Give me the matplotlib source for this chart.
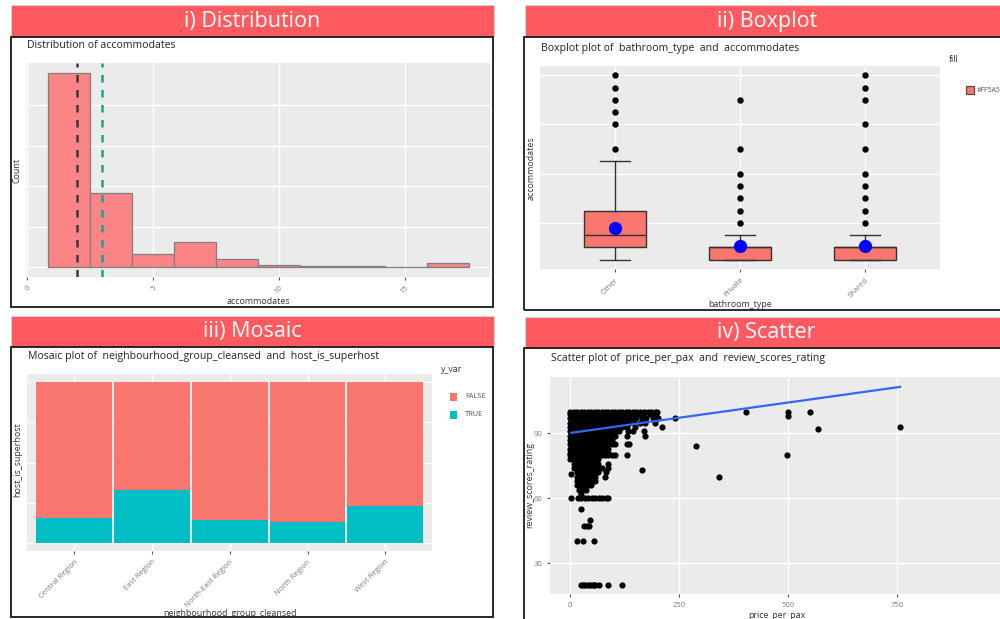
import matplotlib
matplotlib.use("Agg")
import matplotlib.pyplot as plt
from matplotlib.patches import Rectangle

plt.rcParams["font.family"] = ["Open Sans", "DejaVu Sans"]

W, H = 1000, 619

# ===== data =====
# i) histogram of accommodates
hist_edges = [0.83, 2.5, 4.17, 5.84, 7.51, 9.18, 10.85, 12.52, 14.19, 15.86, 17.53]
hist_counts = [4800, 1820, 315, 630, 200, 50, 32, 17, 5, 92]
acc_median = 2.0
acc_mean = 2.96

# ii) boxplot of accommodates by bathroom_type
bath_types = ["Other", "Private", "Shared"]
bath_q1 = [2, 1, 1]
bath_med = [3, 2, 2]
bath_q3 = [5, 2, 2]
bath_lo = [1, 1, 1]
bath_hi = [9, 3, 3]
bath_mean = [3.62, 2.1, 2.08]
bath_fliers = [
    [10, 12, 13, 14, 15, 16],
    [4, 5, 6, 7, 8, 10, 14],
    [4, 5, 6, 7, 8, 10, 12, 14, 15, 16],
]

# iii) mosaic of superhost share per region
regions = ["Central Region", "East Region", "North-East Region", "North Region", "West Region"]
superhost_true = [0.156, 0.326, 0.141, 0.127, 0.230]

# iv) scatter price_per_pax vs review_scores_rating (rows of the dense cloud)
cloud_rows = [
    (100, [0, 8, 16, 24, 32, 40, 48, 56, 64, 72, 80, 88, 96, 104, 112, 120, 128, 136, 144, 152, 160, 170, 178, 186, 194, 200]),
    (99, [0, 8, 16, 24, 32, 40, 48, 56, 64, 72, 80, 88, 96, 104, 112, 120, 128, 136, 144, 152, 158, 168, 182, 196]),
    (97, [0, 8, 16, 24, 32, 40, 48, 56, 64, 72, 80, 88, 96, 104, 112, 120, 128, 136, 144, 152, 164, 175, 190, 201, 240]),
    (95, [0, 8, 16, 24, 32, 40, 48, 56, 64, 72, 80, 88, 96, 104, 112, 120, 128, 136, 146, 160, 172, 195]),
    (93, [0, 8, 16, 24, 32, 40, 48, 56, 64, 72, 80, 88, 96, 104, 112, 120, 130, 148, 211]),
    (91, [0, 8, 16, 24, 32, 40, 48, 56, 64, 72, 80, 88, 96, 104, 112, 132, 144, 169]),
    (89, [0, 8, 16, 24, 32, 40, 48, 56, 64, 72, 80, 88, 96, 104, 131, 171]),
    (87, [0, 8, 16, 24, 32, 40, 48, 56, 64, 72, 80, 88, 96]),
    (85, [0, 8, 16, 24, 32, 40, 48, 56, 64, 72, 80, 88, 96, 103, 131, 135]),
    (83, [0, 8, 16, 24, 32, 40, 48, 56, 64, 72, 80, 88]),
    (81, [0, 8, 16, 24, 32, 40, 48, 56, 64, 72, 80, 88]),
    (80, [0, 8, 16, 24, 32, 40, 48, 56, 64, 72, 80, 88, 96, 104, 130]),
    (78, [0, 8, 16, 24, 32, 40, 48, 56, 64]),
    (76, [8, 16, 24, 32, 40, 48, 56, 64, 88]),
    (74, [8, 16, 24, 32, 40, 48, 56, 64, 72, 87]),
    (72, [16, 24, 32, 40, 48, 56, 64, 82]),
    (70, [16, 24, 32, 40, 48, 56, 79]),
    (68, [16, 24, 32, 40, 48, 56]),
    (66, [16, 24, 32, 40, 48]),
    (64, [20, 28, 36]),
    (62, [24]),
    (60, [2, 18, 26, 34, 42, 50, 58, 66, 74, 82, 87]),
    (20, [25, 30, 35, 40, 45, 50, 55, 57, 66, 88, 119]),
]
extra_price = [2, 164, 288, 342, 403, 499, 499, 550, 567, 756, 496, 26, 45, 32, 38, 43, 16, 29, 55]
extra_score = [71, 73, 84, 70, 100, 100, 98, 100, 92, 93, 80, 55, 50, 47, 47, 47, 40, 40, 40]
fit_intercept = 90.2
fit_slope = 0.0282

price_per_pax = [x for _, xs in cloud_rows for x in xs] + extra_price
review_scores = [r for r, xs in cloud_rows for _ in xs] + extra_score

# ===== layout helpers (pixel coords of the 1000x619 picture) =====
fig = plt.figure(figsize=(W / 100, H / 100), dpi=100)
fig.patch.set_facecolor("white")

HEAD = "#FF5A5F"
TXT = "#222222"
LAB = "#333333"
TICK = "#7a7a7a"


def px_axes(l, t, r, b):
    return fig.add_axes([l / W, 1 - b / H, (r - l) / W, (b - t) / H])


def px_rect(l, t, r, b, **kw):
    fig.add_artist(Rectangle((l / W, 1 - b / H), (r - l) / W, (b - t) / H,
                             transform=fig.transFigure, **kw))


def ftext(x, y, s, **kw):
    fig.text(x / W, 1 - y / H, s, **kw)


def gg(ax):
    ax.set_facecolor("#EBEBEB")
    for sp in ax.spines.values():
        sp.set_visible(False)
    ax.set_axisbelow(True)
    ax.grid(True, which="major", color="white", linewidth=1.0)
    ax.tick_params(which="both", length=0, labelsize=5.5, labelcolor=TICK)
    ax.tick_params(axis="x", which="major", length=2, color="#555555")


# headers and frames
for (l, t, r, b, label, cx) in [(11, 5, 494, 37, "i) Distribution", 252),
                                (525, 5, 1005, 37, "ii) Boxplot", 767),
                                (11, 316, 494, 347, "iii) Mosaic", 252),
                                (525, 317, 1005, 348, "iv) Scatter", 766)]:
    px_rect(l, t, r, b, facecolor=HEAD, edgecolor="#d8d8d8", linewidth=0.6)
    ftext(cx, (t + b) / 2 + 0.5, label, color="white", fontsize=15.5,
          ha="center", va="center")

px_rect(11, 37, 493, 307, fill=False, edgecolor="#1a1a1a", linewidth=1.3)
px_rect(524, 37, 1010, 310, fill=False, edgecolor="#1a1a1a", linewidth=1.3)
px_rect(11, 347, 493, 617, fill=False, edgecolor="#1a1a1a", linewidth=1.3)
px_rect(524, 348, 1010, 630, fill=False, edgecolor="#1a1a1a", linewidth=1.3)

# ===== i) Distribution =====
ax1 = px_axes(26, 63, 490, 277)
gg(ax1)
widths = [hist_edges[i + 1] - hist_edges[i] for i in range(len(hist_counts))]
ax1.bar(hist_edges[:-1], hist_counts, width=widths, align="edge",
        color="#FB8486", edgecolor="#7f7f7f", linewidth=0.9)
ax1.axvline(acc_median, color="#3a3a3a", linestyle=(0, (3, 3)), linewidth=1.8)
ax1.axvline(acc_mean, color="#16A58C", linestyle=(0, (3, 3)), linewidth=1.8)
ax1.set_xlim(-0.04, 18.37)
ax1.set_ylim(-248, 5047)
ax1.set_xticks([0, 5, 10, 15])
ax1.set_yticks([0, 1000, 2000, 3000, 4000])
ax1.set_yticklabels([])
ax1.set_xticklabels(["0", "5", "10", "15"], rotation=45, ha="right",
                    rotation_mode="anchor")
ftext(27, 45, "Distribution of accommodates", fontsize=7.6, color=TXT, va="center")
ftext(258, 301, "accommodates", fontsize=6.4, color=LAB, ha="center", va="center")
ftext(17, 170, "Count", fontsize=6.4, color=LAB, ha="center", va="center", rotation=90)

# ===== ii) Boxplot =====
ax2 = px_axes(540, 66, 940, 269)
gg(ax2)
stats = []
for i, name in enumerate(bath_types):
    stats.append(dict(label=name, q1=bath_q1[i], med=bath_med[i], q3=bath_q3[i],
                      whislo=bath_lo[i], whishi=bath_hi[i], mean=bath_mean[i],
                      fliers=bath_fliers[i]))
ax2.bxp(stats, positions=[1, 2, 3], widths=0.49, capwidths=0.24, patch_artist=True,
        showmeans=True,
        boxprops=dict(facecolor="#F8766D", edgecolor="#333333", linewidth=1.0),
        medianprops=dict(color="#333333", linewidth=1.0),
        whiskerprops=dict(color="#333333", linewidth=1.0),
        capprops=dict(color="#333333", linewidth=1.0),
        flierprops=dict(marker="o", markerfacecolor="black", markeredgecolor="black",
                        markersize=3.6),
        meanprops=dict(marker="o", markerfacecolor="#0000FF", markeredgecolor="#0000FF",
                       markersize=8.5))
ax2.set_xlim(0.4, 3.6)
ax2.set_ylim(0.25, 16.75)
ax2.set_yticks([4, 8, 12, 16])
ax2.set_yticklabels([])
ax2.set_xticks([1, 2, 3])
ax2.set_xticklabels(bath_types, rotation=45, ha="right", rotation_mode="anchor")
ftext(541, 48, "Boxplot plot of  bathroom_type  and  accommodates", fontsize=7.6,
      color=TXT, va="center")
ftext(740, 305, "bathroom_type", fontsize=6.4, color=LAB, ha="center", va="center")
ftext(531, 168, "accommodates", fontsize=6.4, color=LAB, ha="center", va="center",
      rotation=90)
ftext(949, 59, "fill", fontsize=6.4, color=LAB, va="center")
px_rect(966, 86, 974, 94, facecolor="#F8766D", edgecolor="#444444", linewidth=0.8)
ftext(977, 90, "#FF5A5F", fontsize=5, color="#555555", va="center")

# ===== iii) Mosaic =====
ax3 = px_axes(27, 374, 432, 551)
gg(ax3)
pos = list(range(len(regions)))
superhost_false = [1 - v for v in superhost_true]
ax3.bar(pos, superhost_true, width=0.975, color="#00BFC4", linewidth=0)
ax3.bar(pos, superhost_false, bottom=superhost_true, width=0.975, color="#F8766D",
        linewidth=0)
ax3.set_xlim(-0.608, 4.6)
ax3.set_ylim(-0.052, 1.052)
ax3.set_yticks([0, 0.25, 0.5, 0.75, 1.0])
ax3.set_yticklabels([])
ax3.set_xticks(pos)
ax3.set_xticklabels(regions, rotation=45, ha="right", rotation_mode="anchor")
ftext(28, 356, "Mosaic plot of  neighbourhood_group_cleansed  and  host_is_superhost",
      fontsize=7.6, color=TXT, va="center")
ftext(230, 613, "neighbourhood_group_cleansed", fontsize=6.4, color=LAB,
      ha="center", va="center")
ftext(18, 460, "host_is_superhost", fontsize=6.4, color=LAB, ha="center",
      va="center", rotation=90)
ftext(441, 369, "y_var", fontsize=6.4, color=LAB, va="center")
px_rect(450, 393, 457, 401, facecolor="#F8766D", linewidth=0)
ftext(465, 397, "FALSE", fontsize=5.3, color="#555555", va="center")
px_rect(450, 411, 457, 419, facecolor="#00BFC4", linewidth=0)
ftext(465, 415, "TRUE", fontsize=5.3, color="#555555", va="center")

# ===== iv) Scatter =====
ax4 = px_axes(550, 377, 1000, 594)
gg(ax4)
ax4.scatter(price_per_pax, review_scores, s=20, color="black", linewidths=0)
fx = [min(price_per_pax) + 3, max(price_per_pax)]
ax4.plot(fx, [fit_intercept + fit_slope * v for v in fx], color="#3366FF", linewidth=1.6)
ax4.set_xlim(-46, 985)
ax4.set_ylim(15.7, 116.1)
ax4.set_xticks([0, 250, 500, 750])
ax4.set_yticks([30, 60, 90])
ax4.tick_params(axis="y", which="major", length=2, color="#555555")
ftext(551, 358, "Scatter plot of  price_per_pax  and  review_scores_rating", fontsize=7.6,
      color=TXT, va="center")
ftext(777, 615, "price_per_pax", fontsize=6.4, color=LAB, ha="center", va="center")
ftext(530, 485, "review_scores_rating", fontsize=6.4, color=LAB, ha="center",
      va="center", rotation=90)

fig.savefig("out.png", dpi=100, facecolor="white")
plt.close(fig)
